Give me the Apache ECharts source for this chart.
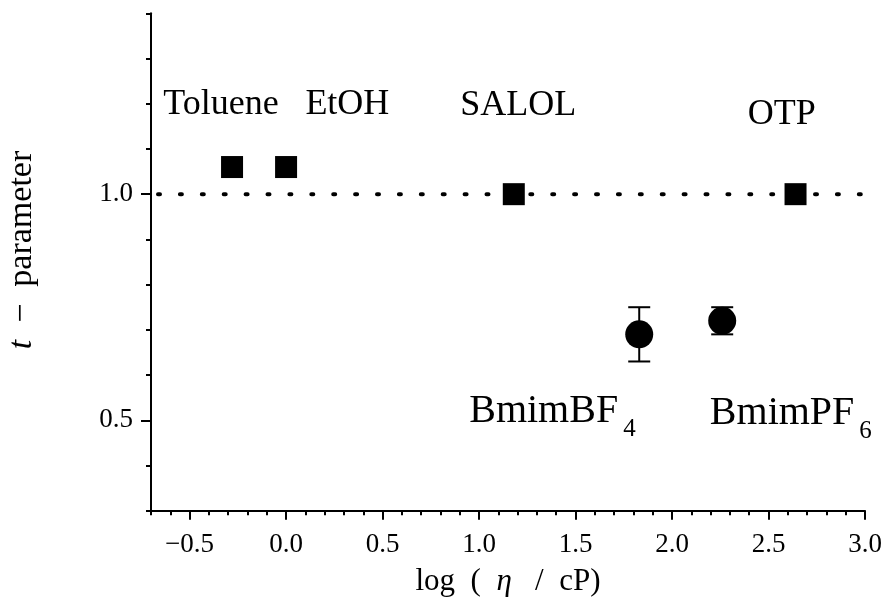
<!DOCTYPE html>
<html>
<head>
<meta charset="utf-8">
<script src="https://cdn.jsdelivr.net/npm/echarts@6/dist/echarts.min.js"></script>
<style>
  html, body { margin: 0; padding: 0; background: #fff; }
  #chart { width: 888px; height: 609px; }
</style>
</head>
<body>
<div id="chart"></div>
<script>
// Molecular liquids: log(viscosity / cP) and t-parameter
const molecularNames = ['Toluene', 'EtOH', 'SALOL', 'OTP'];
const molecularLogEta = [-0.28, 0.0, 1.18, 2.64];
const molecularT = [1.06, 1.06, 1.0, 1.0];

// Ionic liquids, with error bars (half-widths)
const ionicNames = ['BmimBF', 'BmimPF'];
const ionicSubscripts = ['4', '6'];
const ionicLogEta = [1.83, 2.26];
const ionicT = [0.69, 0.72];
const ionicErr = [0.06, 0.03];

// Reference level t = 1
const referenceT = 1.0;

// Axis ranges and ticks
const xRange = [-0.7, 3.0];
const yRange = [0.3, 1.4];
const xMajorTicks = [-0.5, 0.0, 0.5, 1.0, 1.5, 2.0, 2.5, 3.0];
const yMajorTicks = [0.5, 1.0];

// Where each liquid's name is written (data coordinates: left edge, baseline)
const molecularLabelAt = [[-0.636, 1.171], [0.100, 1.171], [0.902, 1.169], [2.393, 1.149]];
const ionicLabelAt = [[0.949, 0.490], [2.196, 0.486]];

function steps(lo, hi, step) {
  const out = [];
  const n = Math.round((hi - lo) / step);
  for (let i = 0; i <= n; i++) out.push(Math.round((lo + i * step) * 10) / 10);
  return out;
}
const xMinorTicks = steps(xRange[0], xRange[1], 0.1);
const yMinorTicks = steps(yRange[0], yRange[1], 0.1);

const FONT = '"Liberation Serif", "Times New Roman", serif';
const INK = '#000';
const fmt = v => v.toFixed(1).replace('-', '\u2212');

const chart = echarts.init(document.getElementById('chart'), null, { renderer: 'canvas' });

const molecularData = molecularLogEta.map((x, i) => [x, molecularT[i]]);
const ionicData = ionicLogEta.map((x, i) => [x, ionicT[i]]);
const errorData = ionicLogEta.map((x, i) => [x, ionicT[i], ionicErr[i]]);

const baseAxisLine = { show: true, onZero: false, lineStyle: { color: INK, width: 2 } };

const option = {
  animation: false,
  backgroundColor: '#fff',
  grid: { left: 151, right: 23, top: 13.3, bottom: 98.3, containLabel: false, outerBoundsMode: 'none' },
  xAxis: [
    {
      type: 'value', min: xRange[0], max: xRange[1], position: 'bottom',
      axisLine: baseAxisLine,
      axisTick: { show: true, customValues: xMajorTicks, length: 9, lineStyle: { color: INK, width: 2 } },
      axisLabel: { customValues: xMajorTicks, formatter: fmt, margin: 21, fontFamily: FONT, fontSize: 27, color: INK },
      splitLine: { show: false },
      name: 'log  (  {i|\u03b7}   /  cP)',
      nameLocation: 'middle', nameGap: 56,
      nameTextStyle: { fontFamily: FONT, fontSize: 31, color: INK,
        rich: { i: { fontFamily: FONT, fontSize: 31, fontStyle: 'italic', color: INK } } }
    },
    {
      type: 'value', min: xRange[0], max: xRange[1], position: 'bottom',
      axisLine: { show: false, onZero: false },
      axisTick: { show: true, customValues: xMinorTicks, length: 4.5, lineStyle: { color: INK, width: 2 } },
      axisLabel: { show: false },
      splitLine: { show: false }
    }
  ],
  yAxis: [
    {
      type: 'value', min: yRange[0], max: yRange[1], position: 'left',
      axisLine: baseAxisLine,
      axisTick: { show: true, customValues: yMajorTicks, length: 10, lineStyle: { color: INK, width: 2 } },
      axisLabel: { customValues: yMajorTicks, formatter: fmt, margin: 18, fontFamily: FONT, fontSize: 27, color: INK },
      splitLine: { show: false },
      name: '{i|t}  \u2212  parameter',
      nameLocation: 'middle', nameGap: 112,
      nameTextStyle: { fontFamily: FONT, fontSize: 34, color: INK, padding: [0, 0, 0, 24],
        rich: { i: { fontFamily: FONT, fontSize: 34, fontStyle: 'italic', color: INK } } }
    },
    {
      type: 'value', min: yRange[0], max: yRange[1], position: 'left',
      axisLine: { show: false, onZero: false },
      axisTick: { show: true, customValues: yMinorTicks, length: 5, lineStyle: { color: INK, width: 2 } },
      axisLabel: { show: false },
      splitLine: { show: false }
    }
  ],
  series: [
    {
      // dotted reference level at t = 1
      type: 'line', xAxisIndex: 0, yAxisIndex: 0,
      data: [[xRange[0], referenceT], [xRange[1], referenceT]],
      symbol: 'none', silent: true, z: 1,
      lineStyle: { color: INK, width: 4, type: [2, 19.9], dashOffset: 14.9, cap: 'round', opacity: 1 }
    },
    {
      type: 'custom', xAxisIndex: 0, yAxisIndex: 0, z: 2,
      data: errorData,
      renderItem: function (params, api) {
        const x = api.value(0), y = api.value(1), e = api.value(2);
        const top = api.coord([x, y + e]);
        const bot = api.coord([x, y - e]);
        const hw = 11;
        const st = { stroke: INK, lineWidth: 2 };
        return {
          type: 'group',
          children: [
            { type: 'line', shape: { x1: top[0], y1: top[1], x2: bot[0], y2: bot[1] }, style: st },
            { type: 'line', shape: { x1: top[0] - hw, y1: top[1], x2: top[0] + hw, y2: top[1] }, style: st },
            { type: 'line', shape: { x1: bot[0] - hw, y1: bot[1], x2: bot[0] + hw, y2: bot[1] }, style: st }
          ]
        };
      }
    },
    {
      type: 'scatter', xAxisIndex: 0, yAxisIndex: 0, z: 3,
      data: molecularData, symbol: 'rect', symbolSize: 22,
      itemStyle: { color: INK, opacity: 1 }
    },
    {
      type: 'scatter', xAxisIndex: 0, yAxisIndex: 0, z: 3,
      data: ionicData, symbol: 'circle', symbolSize: 28,
      itemStyle: { color: INK, opacity: 1 }
    }
  ]
};

chart.setOption(option);

// Liquid names, anchored in data coordinates
const measureCtx = document.createElement('canvas').getContext('2d');
function textWidth(str, size) {
  measureCtx.font = size + 'px ' + FONT;
  return measureCtx.measureText(str).width;
}
// convert a baseline y into the centre y used with verticalAlign 'middle'
const mid = (baseline, size) => baseline - 0.3375 * size;

const graphics = [];
molecularNames.forEach((name, i) => {
  const p = chart.convertToPixel({ gridIndex: 0 }, molecularLabelAt[i]);
  graphics.push({
    type: 'text', x: p[0], y: mid(p[1], 36), z: 10,
    style: { text: name, fontFamily: FONT, fontSize: 36, fill: INK, align: 'left', verticalAlign: 'middle' }
  });
});
ionicNames.forEach((name, i) => {
  const p = chart.convertToPixel({ gridIndex: 0 }, ionicLabelAt[i]);
  const w = textWidth(name, 40);
  graphics.push({
    type: 'text', x: p[0], y: mid(p[1], 40), z: 10,
    style: { text: name, fontFamily: FONT, fontSize: 40, fill: INK, align: 'left', verticalAlign: 'middle' }
  });
  graphics.push({
    type: 'text', x: p[0] + w + 5, y: mid(p[1] + 13, 25), z: 10,
    style: { text: ionicSubscripts[i], fontFamily: FONT, fontSize: 25, fill: INK, align: 'left', verticalAlign: 'middle' }
  });
});
chart.setOption({ graphic: graphics });
</script>
</body>
</html>
